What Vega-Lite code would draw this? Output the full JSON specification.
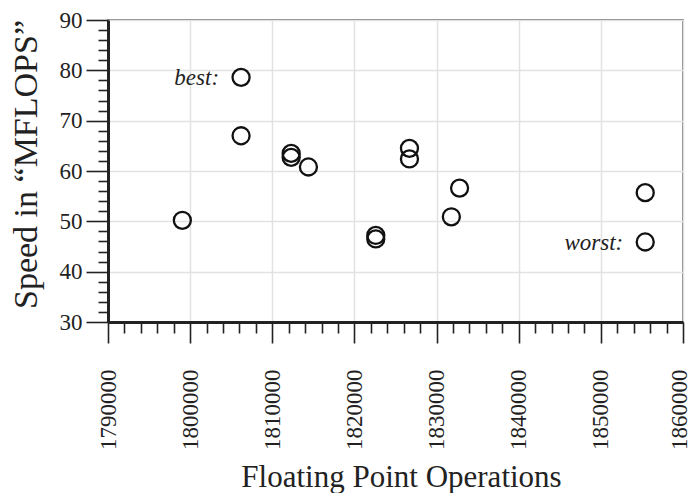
{
  "$schema": "https://vega.github.io/schema/vega-lite/v6.json",
  "width": 575,
  "height": 302,
  "autosize": "none",
  "padding": {"left": 108, "top": 20, "right": 8, "bottom": 171},
  "background": "white",
  "config": {"view": {"stroke": "#555", "strokeWidth": 1.5}},
  "data": {"values": [
    {"ops": 1799050, "mflops": 50.2},
    {"ops": 1806200, "mflops": 78.6, "note": "best:"},
    {"ops": 1806200, "mflops": 67.0},
    {"ops": 1812300, "mflops": 63.5},
    {"ops": 1812300, "mflops": 62.7},
    {"ops": 1814400, "mflops": 60.8},
    {"ops": 1822600, "mflops": 47.2},
    {"ops": 1822600, "mflops": 46.5},
    {"ops": 1826700, "mflops": 64.5},
    {"ops": 1826700, "mflops": 62.4},
    {"ops": 1832800, "mflops": 56.6},
    {"ops": 1831800, "mflops": 50.9},
    {"ops": 1855400, "mflops": 55.7},
    {"ops": 1855400, "mflops": 45.9, "note": "worst:"}
  ]},
  "encoding": {
    "x": {
      "field": "ops", "type": "quantitative",
      "scale": {"domain": [1790000, 1860000], "nice": false, "zero": false},
      "axis": {
        "values": [1790000,1792000,1794000,1796000,1798000,1800000,1802000,1804000,1806000,1808000,1810000,1812000,1814000,1816000,1818000,1820000,1822000,1824000,1826000,1828000,1830000,1832000,1834000,1836000,1838000,1840000,1842000,1844000,1846000,1848000,1850000,1852000,1854000,1856000,1858000,1860000],
        "format": "d",
        "labelExpr": "datum.value % 10000 === 0 ? datum.label : ''",
        "labelAngle": -90, "labelAlign": "right", "labelBaseline": "middle",
        "labelFont": "Liberation Serif", "labelFontSize": 23, "labelColor": "#222",
        "labelPadding": 26, "labelFlush": false, "labelOverlap": false, "labelBound": false,
        "labelOffset": {"condition": {"test": "datum.value === 1860000", "value": -4}, "value": 0},
        "tickSize": {"condition": {"test": "datum.value % 10000 === 0", "value": 21}, "value": 11},
        "tickColor": "#222", "tickWidth": 1.6,
        "domainColor": "#222", "domainWidth": 3,
        "grid": true, "gridColor": "#e2e2e2", "gridWidth": 1.5,
        "gridOpacity": {"condition": {"test": "datum.value % 10000 === 0", "value": 1}, "value": 0},
        "title": "Floating Point Operations",
        "titleFont": "Liberation Serif", "titleFontSize": 31, "titleFontWeight": "normal", "titleColor": "#222",
        "titleX": 293, "titleY": 164, "titleBaseline": "alphabetic", "titleAlign": "center"
      }
    },
    "y": {
      "field": "mflops", "type": "quantitative",
      "scale": {"domain": [30, 90], "nice": false, "zero": false},
      "axis": {
        "values": [30,32,34,36,38,40,42,44,46,48,50,52,54,56,58,60,62,64,66,68,70,72,74,76,78,80,82,84,86,88,90],
        "labelExpr": "datum.value % 10 === 0 ? datum.label : ''",
        "labelFont": "Liberation Serif", "labelFontSize": 23, "labelColor": "#222",
        "labelPadding": 4, "labelFlush": false, "labelOverlap": false, "labelBound": false, "labelBaseline": "middle",
        "tickSize": {"condition": {"test": "datum.value % 10 === 0", "value": 22}, "value": 10},
        "tickColor": "#222", "tickWidth": 1.6,
        "domainColor": "#222", "domainWidth": 3,
        "grid": true, "gridColor": "#e2e2e2", "gridWidth": 1.5,
        "gridOpacity": {"condition": {"test": "datum.value % 10 === 0", "value": 1}, "value": 0},
        "title": "Speed in “MFLOPS”",
        "titleFont": "Liberation Serif", "titleFontSize": 34, "titleFontWeight": "normal", "titleColor": "#222",
        "titleAngle": -90, "titleX": -82, "titleY": 144, "titleBaseline": "middle", "titleAlign": "center"
      }
    }
  },
  "layer": [
    {
      "mark": {"type": "point", "shape": "circle", "filled": false, "size": 290, "strokeWidth": 2.3, "color": "#111", "opacity": 1}
    },
    {
      "transform": [{"filter": "datum.note"}],
      "mark": {"type": "text", "align": "right", "baseline": "middle", "dx": -22, "dy": 1, "font": "Liberation Serif", "fontStyle": "italic", "fontSize": 23, "color": "#222"},
      "encoding": {"text": {"field": "note"}}
    }
  ]
}
